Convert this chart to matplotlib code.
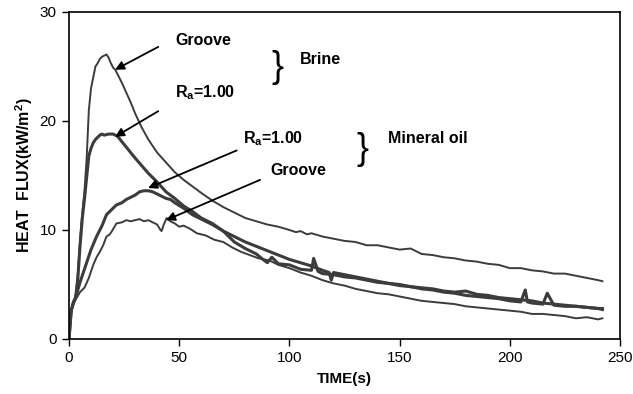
import matplotlib
matplotlib.use("Agg")
import matplotlib.pyplot as plt

plt.rcParams['font.family'] = ['Liberation Sans', 'DejaVu Sans']
plt.rcParams['mathtext.fontset'] = 'custom'
plt.rcParams['mathtext.rm'] = 'Liberation Sans'
plt.rcParams['mathtext.bf'] = 'Liberation Sans:bold'

# ---- data ----
t_brine_groove = [0, 1, 2, 3, 4, 5, 6, 7, 8, 9, 10, 11, 12, 13, 14, 15, 16, 17, 18, 19, 20, 21, 22,
                  24, 26, 28, 30, 33, 36, 40, 44, 48, 52, 56, 60, 65, 70, 75, 80, 85, 90, 95, 100,
                  103, 105, 108, 110, 115, 120, 125, 130, 135, 140, 145, 150, 155, 160, 165, 170,
                  175, 180, 185, 190, 195, 200, 205, 210, 215, 220, 225, 230, 235, 240, 242]
q_brine_groove = [0, 2.6, 3.4, 3.9, 6.0, 9.0, 11.5, 13.5, 16.5, 21.0,
                  23.0, 24.0, 25.0, 25.3, 25.7, 25.9, 26.0, 26.1, 25.8, 25.3, 24.9, 24.7, 24.3,
                  23.5, 22.6, 21.7, 20.7, 19.4, 18.3, 17.1, 16.2, 15.3, 14.6, 14.0, 13.4,
                  12.7, 12.1, 11.6, 11.1, 10.8, 10.5, 10.3, 10.0, 9.8, 9.9, 9.6, 9.7,
                  9.4, 9.2, 9.0, 8.9, 8.6, 8.6, 8.4, 8.2, 8.3, 7.8, 7.7, 7.5, 7.4, 7.2, 7.1,
                  6.9, 6.8, 6.5, 6.5, 6.3, 6.2, 6.0, 6.0, 5.8, 5.6, 5.4, 5.3]

t_brine_ra = [0, 1, 2, 3, 4, 5, 6, 7, 8, 9, 10, 11, 12, 13, 14, 15, 16,
              18, 20, 22, 24, 26, 28, 30, 33, 36, 40, 44, 48, 52, 56, 60,
              65, 70, 75, 80, 85, 88, 90, 92, 95, 100, 105, 110, 111, 113,
              115, 120, 125, 130, 135, 140, 145, 150, 155, 160, 165, 170, 175, 180,
              185, 190, 195, 200, 205, 210, 215, 220, 225, 230, 235, 240, 242]
q_brine_ra = [0, 2.6, 3.4, 3.8, 5.5, 8.5, 11.0, 12.8, 14.8, 16.8, 17.5, 18.0, 18.3, 18.5, 18.7, 18.8, 18.7,
              18.8, 18.8, 18.6, 18.1, 17.6, 17.1, 16.6, 15.9, 15.2, 14.4, 13.5, 12.9, 12.2, 11.7, 11.1,
              10.6, 9.9, 8.9, 8.3, 7.8, 7.3, 7.0, 7.5, 6.9, 6.8, 6.4, 6.3, 7.4, 6.2,
              6.0, 5.9, 5.7, 5.6, 5.4, 5.2, 5.1, 4.9, 4.8, 4.7, 4.6, 4.4, 4.3, 4.4,
              4.1, 4.0, 3.8, 3.7, 3.6, 3.5, 3.3, 3.2, 3.1, 3.0, 2.9, 2.8, 2.7]

t_oil_ra = [0, 1, 2, 3, 5, 8, 10, 12.5, 15, 17, 19, 21.5, 24, 26, 28, 30, 32, 34, 36, 38,
            40, 42, 44, 46, 48, 52, 56, 60, 65, 70, 75, 80, 85, 90, 95, 100, 105, 110, 115,
            118, 119, 120, 125, 130, 135, 140, 145, 150, 155, 160, 165, 170, 175, 180, 185,
            190, 195, 200, 205, 207, 208, 210, 215, 217, 220, 225, 230, 235, 240, 242]
q_oil_ra = [0, 2.6, 3.3, 3.8, 5.2, 7.0, 8.2, 9.4, 10.4, 11.4, 11.8, 12.3, 12.5, 12.8, 13.0, 13.2, 13.5, 13.6, 13.6, 13.5,
            13.3, 13.1, 12.9, 12.8, 12.5, 12.0, 11.4, 11.0, 10.5, 9.9, 9.4, 8.9, 8.5, 8.1, 7.7, 7.3, 7.0, 6.7, 6.3,
            6.1, 5.4, 6.1, 5.9, 5.7, 5.5, 5.3, 5.1, 5.0, 4.8, 4.6, 4.5, 4.3, 4.2, 4.0, 3.9,
            3.8, 3.7, 3.5, 3.4, 4.5, 3.4, 3.3, 3.2, 4.2, 3.1, 3.0, 3.0, 2.9, 2.8, 2.8]

t_oil_groove = [0, 1, 2, 3, 5, 7, 9, 11, 12.5, 14, 15.5, 17, 18.5, 19.5, 21.5, 24, 26, 28, 30, 32,
                34, 36, 38, 40, 41.5, 42, 43, 44.3, 46, 48, 50, 52, 55, 58, 62, 66, 70, 74, 78, 82,
                86, 91, 95, 100, 105, 110, 115, 120, 125, 130, 135, 140, 145, 150, 155, 160, 165,
                170, 175, 180, 185, 190, 195, 200, 205, 210, 215, 220, 225, 230, 235, 240, 242]
q_oil_groove = [0, 2.5, 3.2, 3.6, 4.3, 4.7, 5.6, 6.8, 7.5, 8.0, 8.6, 9.4, 9.6, 9.9, 10.6, 10.7, 10.9, 10.8, 10.9, 11.0,
                10.8, 10.9, 10.7, 10.5, 10.0, 9.9, 10.5, 11.1, 10.8, 10.6, 10.3, 10.4, 10.1, 9.7, 9.5, 9.1, 8.9, 8.4, 8.0, 7.7,
                7.4, 7.2, 6.8, 6.5, 6.1, 5.8, 5.4, 5.1, 4.9, 4.6, 4.4, 4.2, 4.1, 3.9, 3.7, 3.5, 3.4,
                3.3, 3.2, 3.0, 2.9, 2.8, 2.7, 2.6, 2.5, 2.3, 2.3, 2.2, 2.1, 1.9, 2.0, 1.8, 1.9]

x_ticks = [0, 50, 100, 150, 200, 250]
y_ticks = [0, 10, 20, 30]

# ---- figure ----
fig = plt.figure(figsize=(6.33, 3.94), dpi=100)
ax = fig.add_axes([0.109, 0.1396, 0.8705, 0.83])

lc = '#3c3c3c'
ax.plot(t_brine_groove, q_brine_groove, color=lc, lw=1.4)
ax.plot(t_brine_ra, q_brine_ra, color=lc, lw=2.2)
ax.plot(t_oil_ra, q_oil_ra, color=lc, lw=2.2)
ax.plot(t_oil_groove, q_oil_groove, color=lc, lw=1.4)

ax.set_xlim(0, 250)
ax.set_ylim(0, 30)
ax.set_xticks(x_ticks)
ax.set_yticks(y_ticks)
ax.tick_params(direction='out', length=5, width=1, labelsize=11, pad=4)
for s in ax.spines.values():
    s.set_linewidth(1.2)

ax.set_xlabel('TIME(s)', fontsize=11, fontweight='bold', labelpad=5)
ax.set_ylabel(r'HEAT  FLUX(kW/m$^\mathbf{2}$)', fontsize=11.5, fontweight='bold', labelpad=3)

ap = dict(arrowstyle='-|>', color='black', lw=1.3, mutation_scale=13, shrinkA=0, shrinkB=0)
tk = dict(fontsize=11.5, fontweight='bold', va='center', ha='left')

ax.annotate('', xy=(20.9, 24.7), xytext=(40.5, 26.8), arrowprops=ap)
ax.text(48.1, 27.4, 'Groove', **tk)
ax.annotate('', xy=(20.9, 18.55), xytext=(40.5, 20.9), arrowprops=ap)
ax.text(48.1, 22.6, r'R$_\mathbf{a}$=1.00', **tk)
ax.annotate('', xy=(35.9, 13.85), xytext=(76.1, 17.3), arrowprops=ap)
ax.text(79.0, 18.35, r'R$_\mathbf{a}$=1.00', **tk)
ax.annotate('', xy=(44.0, 10.9), xytext=(86.7, 14.6), arrowprops=ap)
ax.text(91.2, 15.5, 'Groove', **tk)

ax.text(94.4, 24.9, '}', fontsize=26, ha='center', va='center')
ax.text(104.8, 25.6, 'Brine', **tk)
ax.text(133.0, 17.4, '}', fontsize=26, ha='center', va='center')
ax.text(144.7, 18.4, 'Mineral oil', **tk)

fig.savefig('out.png', dpi=100)
